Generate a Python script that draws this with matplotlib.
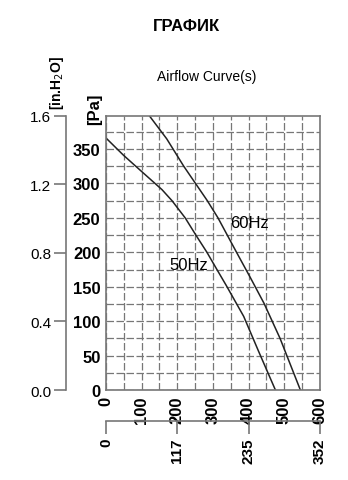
import matplotlib
matplotlib.use('Agg')
import matplotlib.pyplot as plt
from matplotlib.ticker import MultipleLocator

plt.rcParams['font.family'] = ['Liberation Sans Narrow', 'Liberation Sans', 'DejaVu Sans']

# airflow [m3/h] vs static pressure [Pa]
flow_50 = [0, 49, 105, 157, 185, 222, 252, 283, 311, 337, 386, 428, 475]
pres_50 = [366, 341, 315, 291, 275, 250, 225, 200, 175, 152, 107, 56, 0]
flow_60 = [122, 170, 218, 251, 284, 314, 340, 366, 405, 443, 488, 545]
pres_60 = [398, 365, 325, 300, 275, 250, 225, 200, 163, 126, 75, 0]

pa_ticks = [0, 50, 100, 150, 200, 250, 300, 350]
flow_ticks = [0, 100, 200, 300, 400, 500, 600]
inh2o_ticks = [0.0, 0.4, 0.8, 1.2, 1.6]
cfm_ticks = [0, 117, 235, 352]

gray = '#777777'

fig = plt.figure(figsize=(3.48, 4.81), dpi=100)
pos = [0.3046, 0.1871, 0.6149, 0.5697]

# main axes
ax = fig.add_axes(pos)
ax.set_xlim(0, 600)
ax.set_ylim(0, 398)
ax.xaxis.set_minor_locator(MultipleLocator(50))
ax.yaxis.set_minor_locator(MultipleLocator(25))
ax.set_xticks(flow_ticks)
ax.set_yticks(pa_ticks)
ax.set_xticklabels([str(v) for v in flow_ticks], rotation=90, fontsize=12, fontweight='bold')
ax.set_yticklabels([str(v) for v in pa_ticks], fontsize=12, fontweight='bold')
ax.tick_params(which='both', length=0, pad=4)
ax.grid(which='both', color=gray, linestyle=(0, (6, 2)), linewidth=0.9)
for s in ax.spines.values():
    s.set_color(gray)
    s.set_linewidth(1.2)

ax.plot(flow_50, pres_50, color='#222222', linewidth=1.1, solid_joinstyle='round')
ax.plot(flow_60, pres_60, color='#222222', linewidth=1.1, solid_joinstyle='round')
ax.text(233, 182, '50Hz', fontsize=12, ha='center', va='center')
ax.text(403, 244, '60Hz', fontsize=12, ha='center', va='center')

# inch water column axis on the left
ax2 = fig.add_axes(pos, frameon=True)
ax2.patch.set_visible(False)
for k in ['top', 'right', 'bottom']:
    ax2.spines[k].set_visible(False)
ax2.spines['left'].set_position(('outward', 28.5))
ax2.spines['left'].set_color(gray)
ax2.spines['left'].set_linewidth(1.2)
ax2.set_ylim(0, 1.6)
ax2.set_yticks(inh2o_ticks)
ax2.set_yticklabels(['%.1f' % v for v in inh2o_ticks], fontsize=11)
ax2.tick_params(axis='y', length=9, width=1.2, color=gray, pad=2)
ax2.set_xticks([])

# cfm axis at the bottom
ax3 = fig.add_axes(pos, frameon=True)
ax3.patch.set_visible(False)
for k in ['top', 'right', 'left']:
    ax3.spines[k].set_visible(False)
ax3.spines['bottom'].set_position(('outward', 22.5))
ax3.spines['bottom'].set_color(gray)
ax3.spines['bottom'].set_linewidth(1.2)
ax3.set_xlim(0, 352)
ax3.set_xticks(cfm_ticks)
ax3.set_xticklabels([str(v) for v in cfm_ticks], rotation=90, fontsize=11, fontweight='bold')
ax3.tick_params(axis='x', length=9, width=1.2, color=gray, pad=3)
ax3.set_yticks([])

# titles and unit labels
fig.text(0.535, 0.944, 'ГРАФИК', fontsize=12, fontweight='bold', ha='center', va='center')
fig.text(0.595, 0.840, 'Airflow Curve(s)', fontsize=10, ha='center', va='center')
fig.text(0.272, 0.772, '[Pa]', fontsize=12, fontweight='bold', rotation=90, ha='center', va='center')
fig.text(0.165, 0.828, '[in.H$_2$O]', fontsize=10, fontweight='bold', rotation=90, ha='center', va='center')

fig.savefig('out.png', dpi=100)
